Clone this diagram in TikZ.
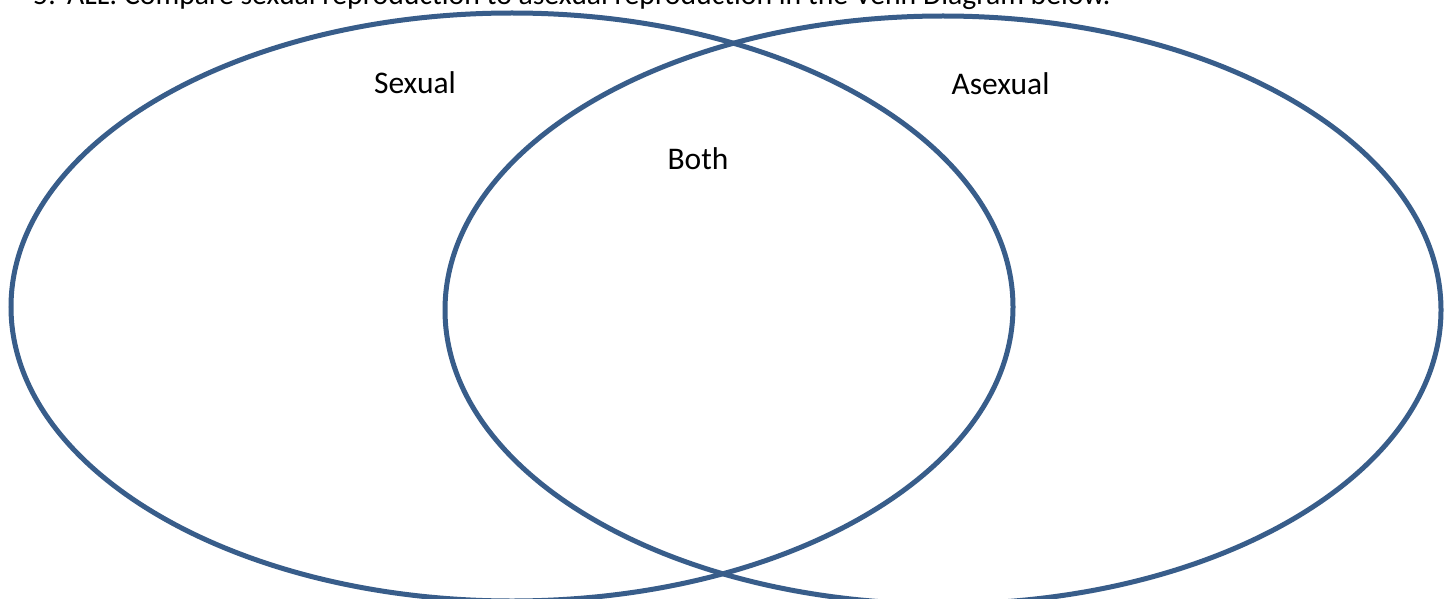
\documentclass[tikz,border=0pt]{standalone}
\usepackage{fontspec}
\setmainfont{Carlito}
\definecolor{vennblue}{HTML}{385D8A}
\tikzset{
  venn/.style={draw=vennblue, line width=5pt},
  lbl/.style={font=\fontsize{31.5}{36}\selectfont, text=black, inner sep=0pt, anchor=base},
  ttl/.style={font=\fontsize{29.7}{34}\selectfont, text=black, inner sep=0pt, anchor=base west}
}
\begin{document}
\begin{tikzpicture}[x=1pt,y=-1pt]
\useasboundingbox (0,0) rectangle (1446,599);
\clip (0,0) rectangle (1446,599);
\fill[white] (0,0) rectangle (1446,599);
\node[ttl] (title) at (33,5) {5.\hspace{11.5pt}ALL: Compare sexual reproduction to asexual reproduction in the Venn Diagram below.};
\draw[venn] (512,307) ellipse [x radius=501, y radius=294];
\draw[venn] (943,310) ellipse [x radius=498, y radius=294];
\node[lbl] (sexual) at (415,94) {Sexual};
\node[lbl] (asexual) at (1000.5,95) {Asexual};
\node[lbl] (both) at (698,169) {Both};
\end{tikzpicture}
\end{document}
